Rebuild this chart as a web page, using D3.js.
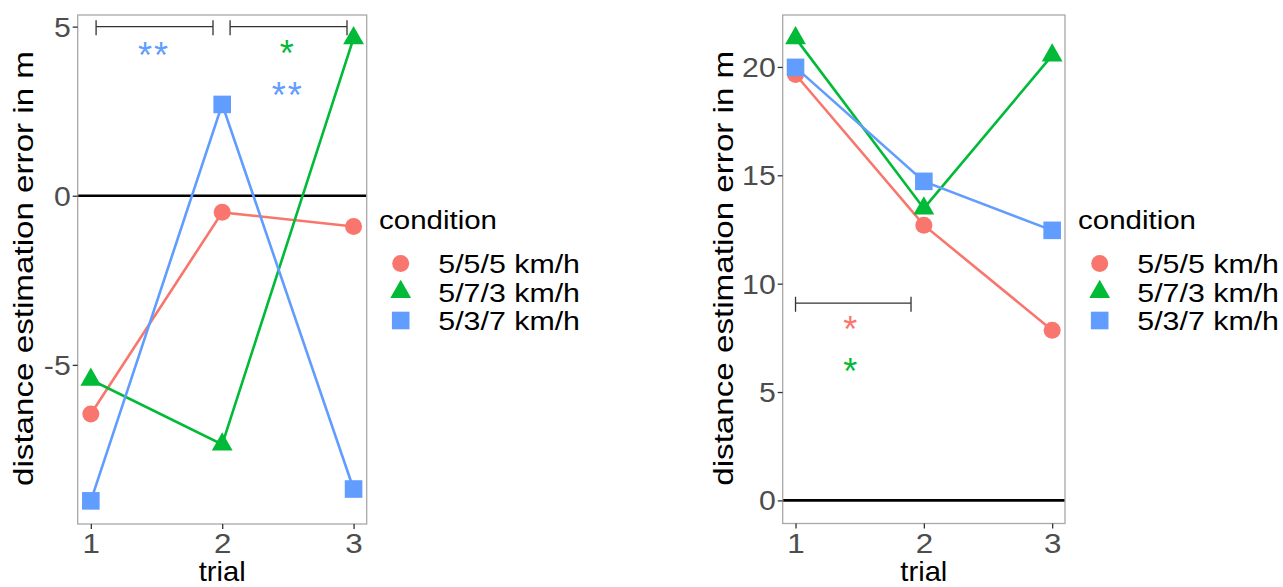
<!DOCTYPE html>
<html><head><meta charset="utf-8">
<script src="https://cdn.jsdelivr.net/npm/d3@7"></script>
<style>body{margin:0;background:#fff} svg{display:block} text{font-family:"Liberation Sans",Arial,sans-serif}</style>
</head><body><svg id="c" width="1283" height="587"></svg>
<script>
const trials = [1, 2, 3];
const conditions = ["5/5/5 km/h", "5/7/3 km/h", "5/3/7 km/h"];
const colors = ["#F8766D", "#00BA38", "#619CFF"];
const shapes = ["circle", "triangle", "square"];

const leftRed   = [-6.45, -0.49, -0.91];
const leftGreen = [-5.44, -7.35, 4.66];
const leftBlue  = [-9.02, 2.70, -8.67];
const rightRed   = [19.65, 12.70, 7.85];
const rightGreen = [21.33, 13.47, 20.53];
const rightBlue  = [19.98, 14.72, 12.46];

const leftYTicks = [-5, 0, 5];
const rightYTicks = [0, 5, 10, 15, 20];
const xTicks = [1, 2, 3];

const leftBrackets = [[1.04, 1.93, 5], [2.06, 2.95, 5]];
const leftStars = [{x: 1.48, y: 4.30, label: "**", c: 2}, {x: 2.5, y: 4.36, label: "*", c: 1}, {x: 2.5, y: 3.12, label: "**", c: 2}];
const rightBrackets = [[1.0, 1.9, 9.1]];
const rightStars = [{x: 1.435, y: 8.12, label: "*", c: 0}, {x: 1.435, y: 6.18, label: "*", c: 1}];

const yTitle = "distance estimation error in m";
const xTitle = "trial";
const legendTitle = "condition";

const svg = d3.select("#c");

function shapePath(s) {
  if (s === "circle") return "M8.5,0A8.5,8.5,0,1,1,-8.5,0A8.5,8.5,0,1,1,8.5,0Z";
  if (s === "square") return "M-8.8,-8.8H8.8V8.8H-8.8Z";
  return "M0,-12.2L10.4,6.1L-10.4,6.1Z";
}

function panel(o) {
  const g = svg.append("g");
  const series = o.series;
  const all = series.flat().concat(o.includeZero ? [0] : []);
  const lo = d3.min(all), hi = d3.max(all), pad = (hi - lo) * 0.05;
  const y = d3.scaleLinear().domain([lo - pad, hi + pad]).range([o.bottom, o.top]);
  const x = d3.scaleLinear().domain([0.9, 3.1]).range([o.left, o.right]);

  // zero line
  g.append("line").attr("x1", o.left).attr("x2", o.right).attr("y1", y(0)).attr("y2", y(0))
    .attr("stroke", "#000").attr("stroke-width", 2.6);

  // brackets
  o.brackets.forEach(b => {
    const yy = y(b[2]);
    g.append("path").attr("d", `M${x(b[0])},${yy}H${x(b[1])}M${x(b[0])},${yy-6.5}V${yy+8.5}M${x(b[1])},${yy-6.5}V${yy+8.5}`)
      .attr("stroke", "#333").attr("stroke-width", 1.3).attr("fill", "none");
  });
  // stars
  o.stars.forEach(s => {
    g.append("text").attr("x", x(s.x)).attr("y", y(s.y) + 18).attr("text-anchor", "middle")
      .attr("font-size", 36).attr("letter-spacing", 2).attr("fill", colors[s.c]).text(s.label);
  });

  // lines
  const line = d3.line().x((d, i) => x(trials[i])).y(d => y(d));
  series.forEach((s, k) => {
    g.append("path").attr("d", line(s)).attr("fill", "none").attr("stroke", colors[k]).attr("stroke-width", 2.6);
  });
  series.forEach((s, k) => {
    s.forEach((v, i) => {
      g.append("path").attr("d", shapePath(shapes[k])).attr("fill", colors[k])
        .attr("transform", `translate(${x(trials[i])},${y(v)})`);
    });
  });

  // border
  g.append("rect").attr("x", o.left).attr("y", o.top).attr("width", o.right - o.left).attr("height", o.bottom - o.top)
    .attr("fill", "none").attr("stroke", "#A8A8A8").attr("stroke-width", 1.3);

  // axes
  const ya = g.append("g").attr("transform", `translate(${o.left},0)`)
    .call(d3.axisLeft(y).tickValues(o.yTicks).tickSize(5).tickFormat(d => String(d)));
  ya.select(".domain").remove();
  ya.selectAll("line").attr("stroke", "#333").attr("stroke-width", 1.3);
  ya.selectAll("text").attr("x", null).attr("dy", null).attr("font-size", 27).attr("fill", "#4D4D4D")
    .attr("font-family", "Liberation Sans, Arial, sans-serif")
    .attr("transform", "translate(-7,9.5) scale(1.12,1)");

  const xa = g.append("g").attr("transform", `translate(0,${o.bottom})`)
    .call(d3.axisBottom(x).tickValues(xTicks).tickSize(5).tickFormat(d => String(d)));
  xa.select(".domain").remove();
  xa.selectAll("line").attr("stroke", "#333").attr("stroke-width", 1.3);
  xa.selectAll("text").attr("y", null).attr("dy", null).attr("font-size", 28).attr("fill", "#4D4D4D")
    .attr("font-family", "Liberation Sans, Arial, sans-serif")
    .attr("transform", "translate(0,29) scale(1.12,1)");

  // titles
  g.append("text").attr("transform", `translate(${o.titleX},${(o.top + o.bottom) / 2 - 1}) rotate(-90)`)
    .attr("text-anchor", "middle").attr("font-size", 27).attr("textLength", 435).attr("lengthAdjust", "spacingAndGlyphs")
    .attr("fill", "#000").text(yTitle);
  g.append("text").attr("x", x(2)).attr("y", 581).attr("text-anchor", "middle").attr("font-size", 28)
    .attr("textLength", 47).attr("lengthAdjust", "spacingAndGlyphs").attr("fill", "#000").text(xTitle);

  // legend
  const lg = g.append("g").attr("transform", `translate(${o.legendX},0)`);
  lg.append("text").attr("x", 0).attr("y", 229).attr("font-size", 26).attr("textLength", 118)
    .attr("lengthAdjust", "spacingAndGlyphs").text(legendTitle);
  conditions.forEach((c, k) => {
    const cy = 263.5 + k * 28.5;
    lg.append("path").attr("d", shapePath(shapes[k])).attr("fill", colors[k]).attr("transform", `translate(21.7,${cy})`);
    lg.append("text").attr("x", 59.3).attr("y", cy + 9.6).attr("font-size", 26).attr("textLength", 141.7)
      .attr("lengthAdjust", "spacingAndGlyphs").text(c);
  });
}

panel({left: 77.7, right: 366.7, top: 15, bottom: 524, series: [leftRed, leftGreen, leftBlue],
  includeZero: false, yTicks: leftYTicks, brackets: leftBrackets, stars: leftStars, titleX: 33, legendX: 379});
panel({left: 782.7, right: 1065, top: 15, bottom: 523.5, series: [rightRed, rightGreen, rightBlue],
  includeZero: true, yTicks: rightYTicks, brackets: rightBrackets, stars: rightStars, titleX: 733, legendX: 1078});
</script></body></html>
